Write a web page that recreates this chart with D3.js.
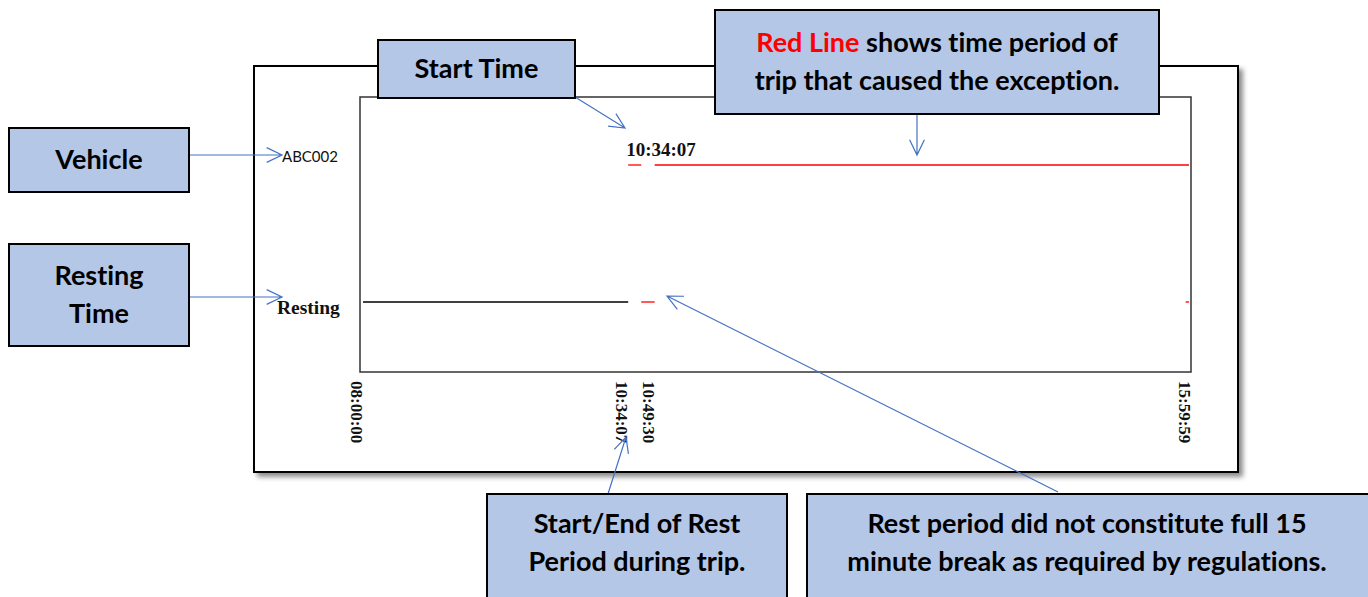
<!DOCTYPE html>
<html>
<head>
<meta charset="utf-8">
<script src="https://cdn.jsdelivr.net/npm/d3@7"></script>
<style>
  html, body { margin: 0; padding: 0; background: #fff; }
  svg { display: block; }
  text { font-variant-ligatures: none; }
</style>
</head>
<body>
<svg id="chart" width="1368" height="597"></svg>
<script>
// chart data
const rows = ['ABC002', 'Resting'];
const tripSegments = [['10:34:07', '10:41:40'], ['10:49:30', '15:59:59']];
const restSegments = [['08:00:00', '10:34:07']];
const restExceptionSegments = [['10:41:40', '10:49:30'], ['15:58:00', '16:00:00']];
const tickLabels = ['08:00:00', '10:34:07', '10:49:30', '15:59:59'];
const startLabel = '10:34:07';

// callouts
const callouts = [
  { id: 'vehicle', x: 9, y: 128, w: 180, h: 64, lines: [['Vehicle']] },
  { id: 'resting', x: 9, y: 244, w: 180, h: 102, lines: [['Resting'], ['Time']] },
  { id: 'start', x: 378, y: 40, w: 197, h: 58, lines: [['Start Time']] },
  { id: 'redline', x: 715, y: 10, w: 444, h: 104, lines: [[{ t: 'Red Line', red: true }, ' shows time period of'], ['trip that caused the exception.']] },
  { id: 'startend', x: 487, y: 494, w: 300, h: 110, lines: [['Start/End of Rest'], ['Period during trip.']] },
  { id: 'restperiod', x: 807, y: 494, w: 570, h: 110, lines: [['Rest period did not constitute full 15'], ['minute break as required by regulations.']] },
];
const arrows = [
  [[189, 155], [282, 155]],
  [[189, 297], [282, 297]],
  [[575, 97], [625, 128]],
  [[917, 106], [917, 155]],
  [[607, 497], [626, 437]],
  [[1058, 492], [667, 296]],
];

const svg = d3.select('#chart');
const parse = d3.timeParse('%H:%M:%S');

const x = d3.scaleTime()
  .domain([parse('08:00:00'), parse('16:00:00')])
  .range([363, 1189]);
const y = d3.scalePoint().domain(rows).range([165, 302]);

const defs = svg.append('defs');
defs.append('filter').attr('id', 'shadow')
  .attr('x', '-5%').attr('y', '-5%').attr('width', '112%').attr('height', '115%')
  .append('feDropShadow')
  .attr('dx', 4).attr('dy', 4).attr('stdDeviation', 2.5)
  .attr('flood-color', '#000').attr('flood-opacity', 0.45);

// outer frame
svg.append('rect')
  .attr('x', 254).attr('y', 66).attr('width', 984).attr('height', 406)
  .attr('fill', '#fff').attr('stroke', '#000').attr('stroke-width', 2)
  .attr('filter', 'url(#shadow)');

// plot area
svg.append('rect')
  .attr('x', 360).attr('y', 97).attr('width', 831).attr('height', 275)
  .attr('fill', 'none').attr('stroke', '#333').attr('stroke-width', 1.5);

const segs = svg.append('g');
const drawSegs = (data, row, color) => {
  segs.selectAll(null)
    .data(data)
    .join('line')
    .attr('x1', (d) => x(parse(d[0])))
    .attr('x2', (d) => x(parse(d[1])))
    .attr('y1', y(row))
    .attr('y2', y(row))
    .attr('stroke', color)
    .attr('stroke-width', 1.3);
};
drawSegs(tripSegments, 'ABC002', '#ff0000');
drawSegs(restSegments, 'Resting', '#000');
drawSegs(restExceptionSegments, 'Resting', '#ff0000');

// row labels
svg.append('text')
  .attr('x', 282).attr('y', y('ABC002') - 3)
  .attr('font-family', 'Lato, sans-serif').attr('font-size', 15)
  .attr('fill', '#111')
  .text(rows[0]);
svg.append('text')
  .attr('x', 277).attr('y', y('Resting') + 12)
  .attr('font-family', '"Liberation Serif", serif').attr('font-weight', 'bold').attr('font-size', 19.5)
  .attr('fill', '#111')
  .text(rows[1]);

// start time label
svg.append('text')
  .attr('x', x(parse(startLabel)) - 2).attr('y', y('ABC002') - 9)
  .attr('font-family', '"Liberation Serif", serif').attr('font-weight', 'bold').attr('font-size', 19)
  .attr('fill', '#111')
  .text(startLabel);

// axis tick labels (rotated)
svg.append('g')
  .selectAll('text')
  .data(tickLabels)
  .join('text')
  .attr('transform', (d, i) => `translate(${x(parse(d)) - (i === 3 ? 10 : 12)},381) rotate(90)`)
  .attr('font-family', '"Liberation Serif", serif').attr('font-weight', 'bold').attr('font-size', 17)
  .attr('fill', '#111')
  .text((d) => d);

// arrows
const arrowG = svg.append('g')
  .attr('stroke', '#4472c4').attr('stroke-width', 1.2).attr('fill', 'none');
arrows.forEach(([a, b]) => {
  const ang = Math.atan2(b[1] - a[1], b[0] - a[0]);
  const len = 17;
  const spread = 0.45;
  const p1 = [b[0] - len * Math.cos(ang - spread), b[1] - len * Math.sin(ang - spread)];
  const p2 = [b[0] - len * Math.cos(ang + spread), b[1] - len * Math.sin(ang + spread)];
  arrowG.append('path').attr('d', `M${a}L${b}M${p1}L${b}L${p2}`);
});

// callout boxes
const boxes = svg.append('g').selectAll('g')
  .data(callouts)
  .join('g');
boxes.append('rect')
  .attr('x', (d) => d.x).attr('y', (d) => d.y)
  .attr('width', (d) => d.w).attr('height', (d) => d.h)
  .attr('fill', '#b4c7e7').attr('stroke', '#000').attr('stroke-width', 2);
boxes.each(function (d) {
  const g = d3.select(this);
  const lineH = 38;
  const n = d.lines.length;
  const boxH = d.y + d.h > 597 ? 597 - d.y : d.h;
  const cy = d.id === 'startend' || d.id === 'restperiod' ? d.y + 49 : d.y + boxH / 2;
  d.lines.forEach((ln, i) => {
    const t = g.append('text')
      .attr('x', d.x + d.w / 2 - (d.id === 'restperiod' ? 5 : 0))
      .attr('y', cy + (i - (n - 1) / 2) * lineH + 9)
      .attr('text-anchor', 'middle')
      .attr('font-family', 'Lato, sans-serif').attr('font-weight', 'bold').attr('font-size', 27)
      .attr('fill', '#000');
    ln.forEach((part) => {
      if (typeof part === 'string') t.append('tspan').text(part);
      else t.append('tspan').attr('fill', '#ff0000').text(part.t);
    });
  });
});
</script>
</body>
</html>
